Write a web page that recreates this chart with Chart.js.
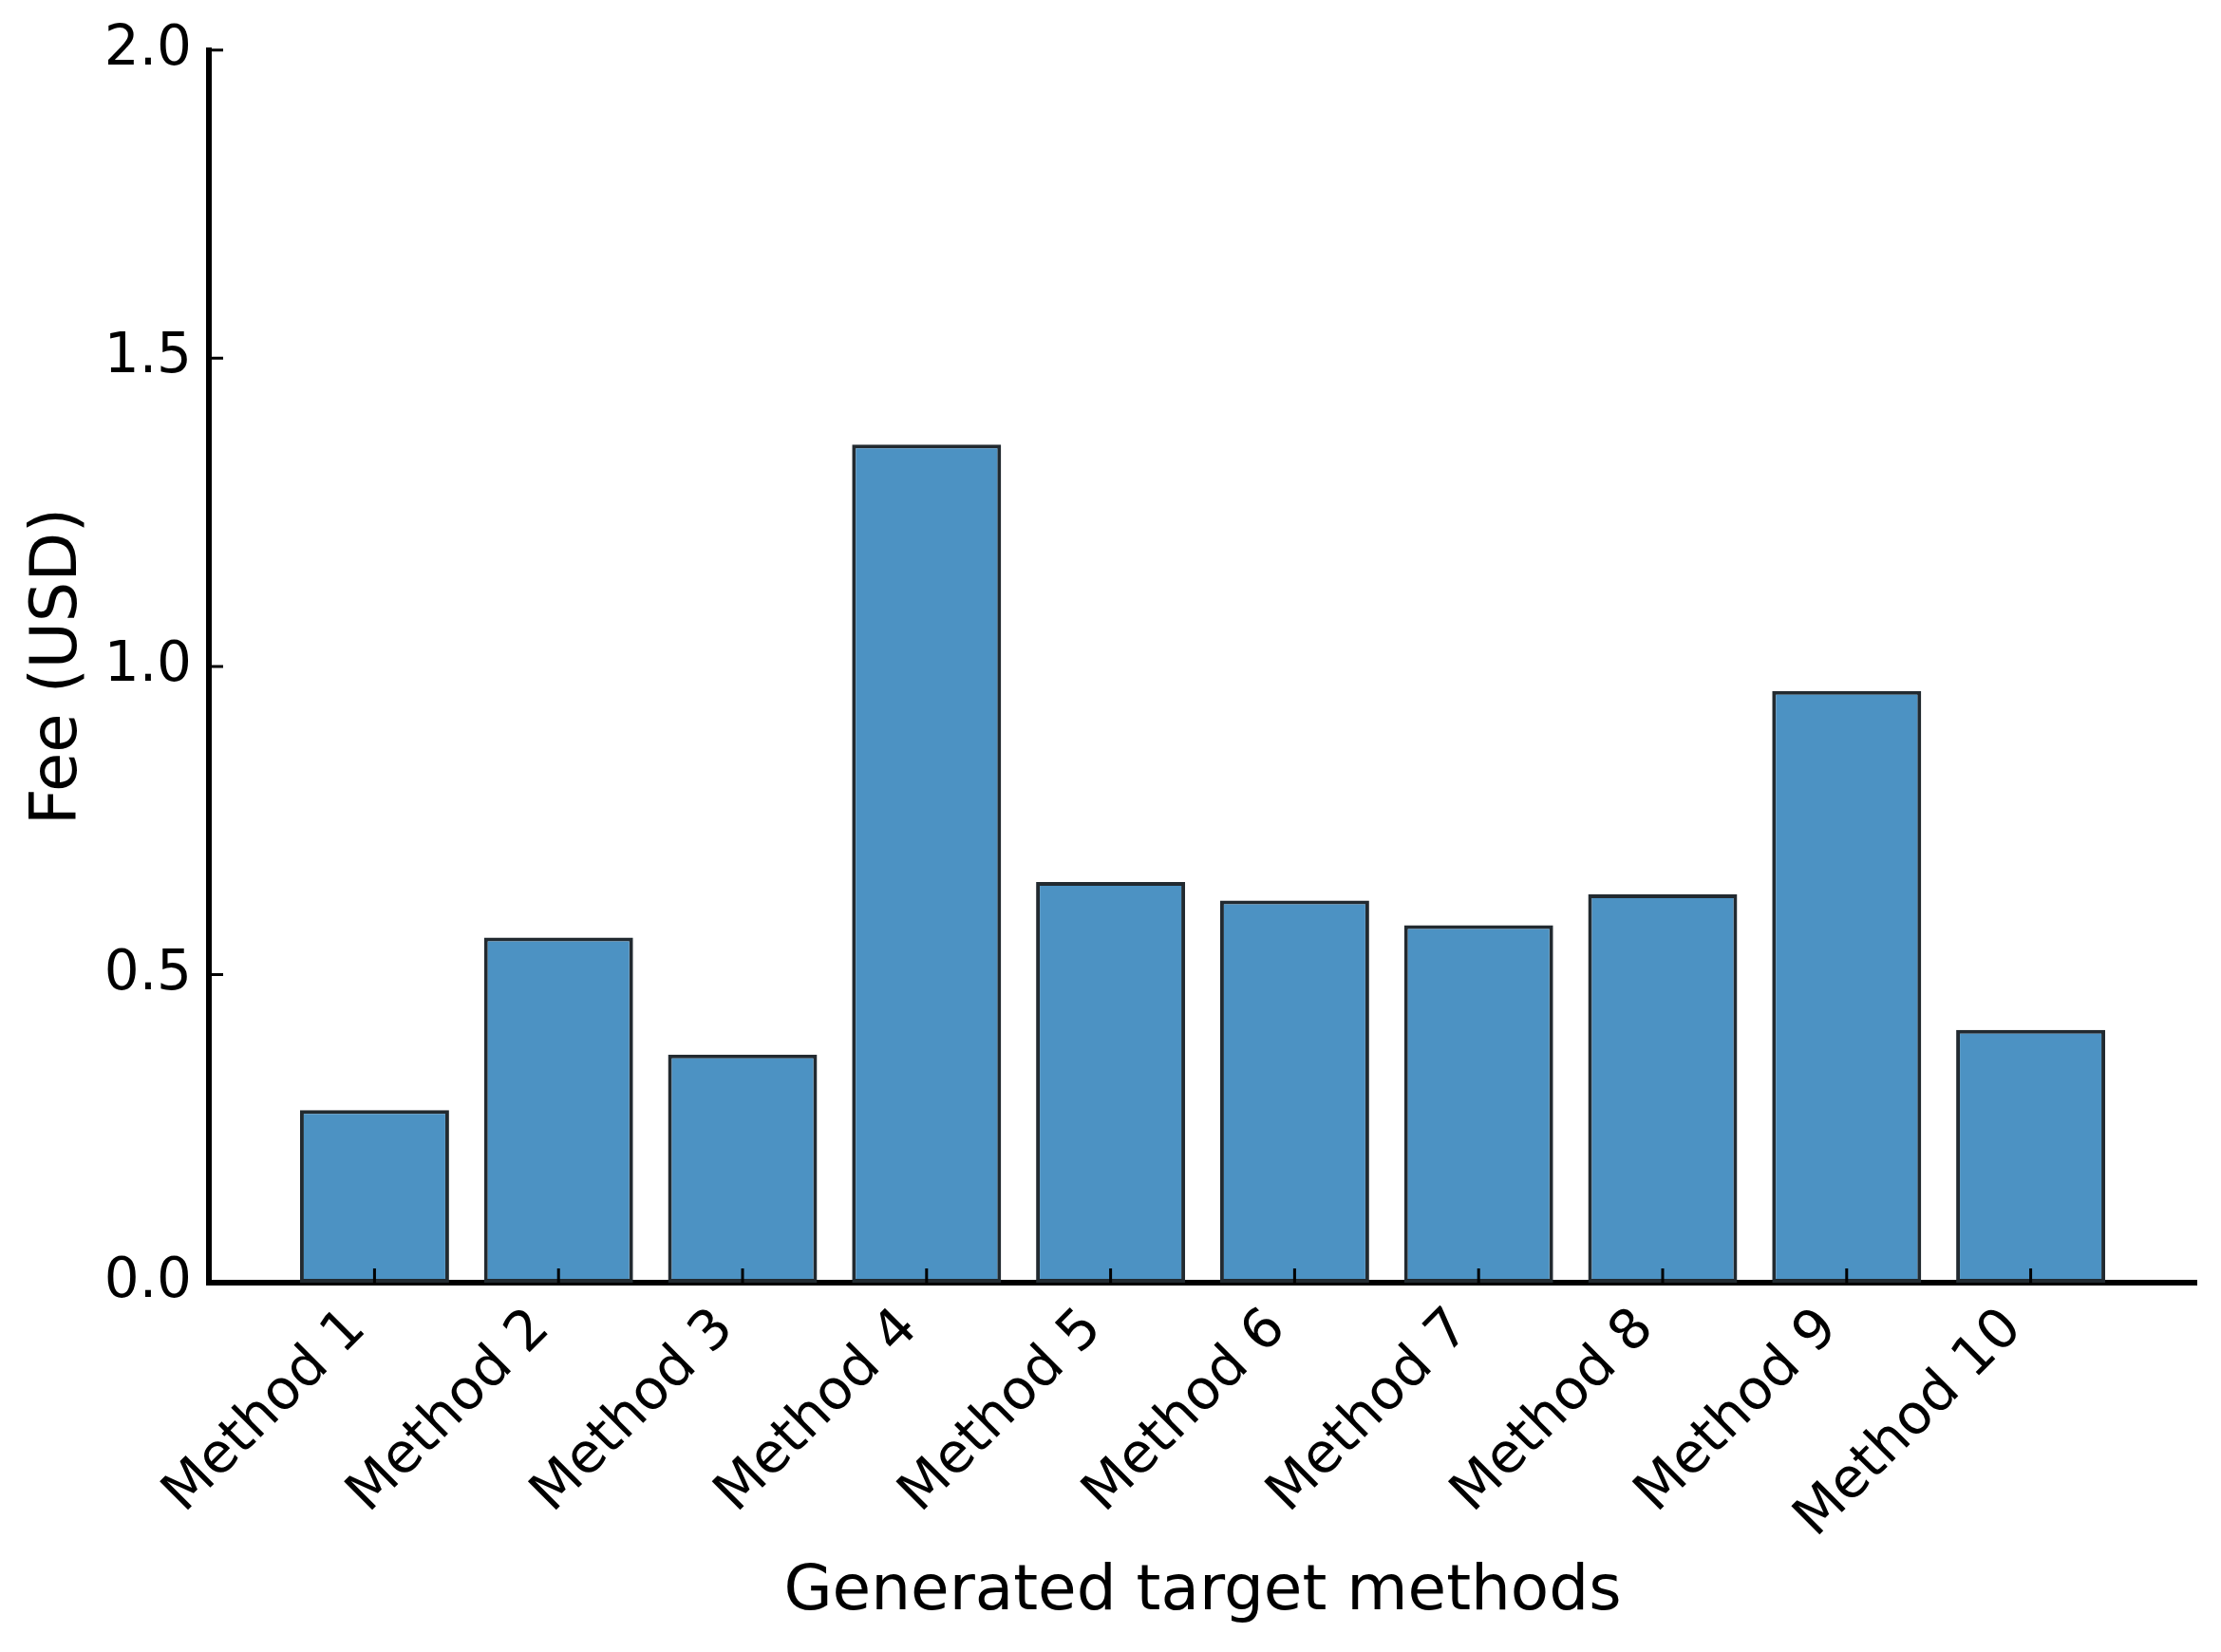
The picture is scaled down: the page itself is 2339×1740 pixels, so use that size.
<!DOCTYPE html>
<html>
<head>
<meta charset="utf-8">
<script src="https://cdn.jsdelivr.net/npm/chart.js@4"></script>
<style>
  html, body { margin: 0; padding: 0; background: #fff; }
  #wrap { width: 2339px; height: 1740px; }
</style>
</head>
<body>
<div id="wrap"><canvas id="feeChart" width="2339" height="1740"></canvas></div>
<script>
// data
const methods = ["Method 1", "Method 2", "Method 3", "Method 4", "Method 5",
                 "Method 6", "Method 7", "Method 8", "Method 9", "Method 10"];
const fees = [0.28, 0.56, 0.37, 1.36, 0.65, 0.62, 0.58, 0.63, 0.96, 0.41];
const yTicks = [0, 0.5, 1.0, 1.5, 2.0];

const FONT = "'DejaVu Sans', sans-serif";

// matplotlib style ticks pointing into the plot
const inwardTicks = {
    id: "inwardTicks",
    afterDraw(chart) {
        const ctx = chart.ctx;
        const area = chart.chartArea;
        const x = chart.scales.x, y = chart.scales.y;
        ctx.save();
        ctx.strokeStyle = "#000";
        ctx.lineWidth = 3;
        ctx.beginPath();
        methods.forEach((_, i) => {
            const px = x.getPixelForValue(i);
            ctx.moveTo(px, area.bottom);
            ctx.lineTo(px, area.bottom - 15);
        });
        yTicks.forEach(v => {
            const py = y.getPixelForValue(v);
            ctx.moveTo(area.left, py);
            ctx.lineTo(area.left + 15, py);
        });
        ctx.stroke();
        ctx.restore();
    }
};

new Chart(document.getElementById("feeChart"), {
    type: "bar",
    data: {
        datasets: [{
            data: fees.map((v, i) => ({ x: i, y: v })),
            backgroundColor: "#4c92c3",
            borderColor: "#222a30",
            borderWidth: 4,
            borderSkipped: false,
            barPercentage: 0.81,
            categoryPercentage: 1.0,
        }],
    },
    options: {
        responsive: false,
        animation: false,
        devicePixelRatio: 1,
        layout: { padding: { top: 52, right: 26, left: 0, bottom: 0 } },
        plugins: { legend: { display: false }, tooltip: { enabled: false } },
        scales: {
            x: {
                type: "linear",
                min: -0.9,
                max: 9.9,
                offset: false,
                z: 1,
                grid: { display: false, drawTicks: false, offset: false },
                border: { display: true, color: "#000", width: 6 },
                afterBuildTicks: s => { s.ticks = methods.map((_, i) => ({ value: i })); },
                afterFit: s => { s.height = 389; },
                ticks: {
                    autoSkip: false,
                    minRotation: 45,
                    maxRotation: 45,
                    padding: 15,
                    labelOffset: -18,
                    color: "#000",
                    font: { family: FONT, size: 58 },
                    callback: v => methods[v],
                },
                title: {
                    display: true,
                    text: "Generated target methods",
                    color: "#000",
                    font: { family: FONT, size: 66 },
                    padding: { top: 0, bottom: 23 },
                },
            },
            y: {
                min: 0,
                max: 2,
                grid: { display: false, drawTicks: false },
                border: { display: true, color: "#000", width: 6 },
                afterBuildTicks: s => { s.ticks = yTicks.map(v => ({ value: v })); },
                afterFit: s => { s.width = 220; },
                ticks: {
                    padding: 18,
                    color: "#000",
                    font: { family: FONT, size: 58 },
                    callback: v => v.toFixed(1),
                },
                title: {
                    display: true,
                    text: "Fee (USD)",
                    color: "#000",
                    font: { family: FONT, size: 67 },
                    padding: { top: 22, bottom: 0 },
                },
            },
        },
    },
    plugins: [inwardTicks],
});
</script>
</body>
</html>
